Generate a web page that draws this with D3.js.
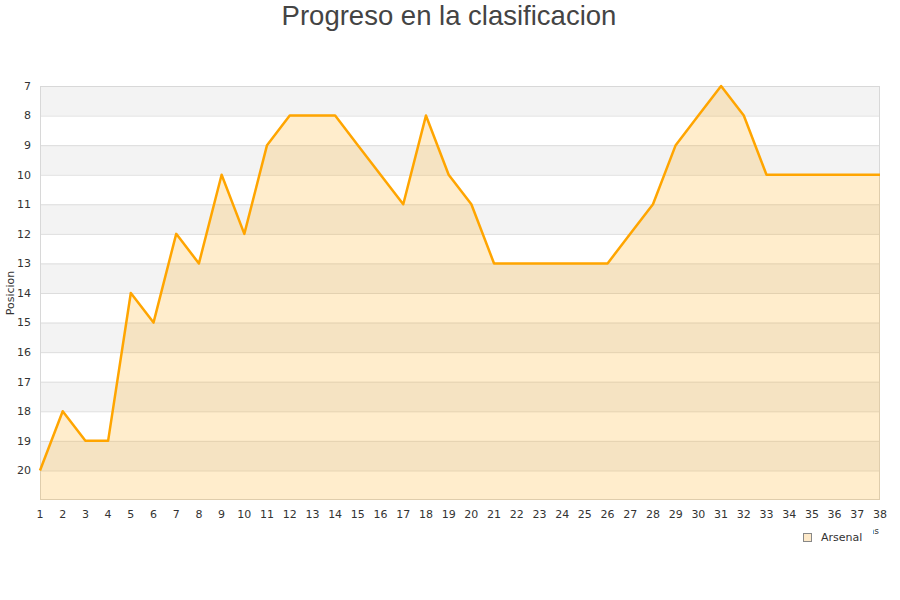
<!DOCTYPE html>
<html><head><meta charset="utf-8">
<script src="https://cdn.jsdelivr.net/npm/d3@7"></script>
<style>body{margin:0;background:#fff}</style>
</head><body>
<svg id="c" width="900" height="600"></svg>
<script>
const jornadas = d3.range(1, 39);
const posiciones = [20,18,19,19,14,15,12,13,10,12,9,8,8,8,9,10,11,8,10,11,13,13,13,13,13,13,12,11,9,8,7,8,10,10,10,10,10,10];
const yTicks = d3.range(7, 21);
const title = "Progreso en la clasificacion";
const seriesName = "Arsenal";
const yTitle = "Posicion";
const xTitle = "Jornadas";

const svg = d3.select("#c");
const m = {l:40, r:880, t:86, b:500};
const x = d3.scaleLinear().domain([1,38]).range([m.l, m.r]);
const y = d3.scaleLinear().domain([7,21]).range([m.t, m.b]);
const font = "DejaVu Sans, sans-serif";

// bands
svg.append("g").selectAll("rect").data(d3.range(7,21)).join("rect")
  .attr("x", m.l).attr("width", m.r-m.l)
  .attr("y", d=>y(d)).attr("height", d=>y(d+1)-y(d))
  .attr("fill", d=> (d%2===1) ? "#f3f3f3" : "#ffffff");
// grid
svg.append("g").selectAll("line").data(d3.range(8,21)).join("line")
  .attr("x1", m.l).attr("x2", m.r).attr("y1", d=>y(d)+0.5).attr("y2", d=>y(d)+0.5)
  .attr("stroke", "#dddddd");
// border
svg.append("rect").attr("x", m.l+0.5).attr("y", m.t+0.5).attr("width", m.r-m.l-1).attr("height", m.b-m.t-1)
  .attr("fill","none").attr("stroke","#d8d8d8");

const data = jornadas.map((j,i)=>({j, p:posiciones[i]}));
svg.append("path").datum(data)
  .attr("d", d3.area().x(d=>x(d.j)).y0(y(21)).y1(d=>y(d.p)))
  .attr("fill", "#ffa500").attr("fill-opacity", 0.2);
svg.append("path").datum(data)
  .attr("d", d3.line().x(d=>x(d.j)).y(d=>y(d.p)))
  .attr("fill", "none").attr("stroke", "#ffa500").attr("stroke-width", 2.5).attr("stroke-linejoin","round");

// y axis labels
svg.append("g").selectAll("text").data(yTicks).join("text")
  .attr("x", 31).attr("y", d=>y(d)).attr("dy","0.35em").attr("text-anchor","end")
  .attr("font-family", font).attr("font-size", 11).attr("fill", "#333").text(d=>d);
// x axis labels
svg.append("g").selectAll("text").data(jornadas).join("text")
  .attr("x", d=>x(d)).attr("y", 518).attr("text-anchor","middle")
  .attr("font-family", font).attr("font-size", 11).attr("fill", "#333").text(d=>d);

// titles
svg.append("text").attr("x", 449).attr("y", 25).attr("text-anchor","middle")
  .attr("font-family","Liberation Sans, Arial, sans-serif").attr("font-size", 27.5).attr("fill","#444").text(title);
svg.append("text").attr("transform","translate(14,293) rotate(-90)").attr("text-anchor","middle")
  .attr("font-family", font).attr("font-size", 11).attr("fill","#333").text(yTitle);
svg.append("text").attr("x", 879).attr("y", 534).attr("text-anchor","end")
  .attr("font-family", font).attr("font-size", 9).attr("fill","#333").text(xTitle);

// legend
const lg = svg.append("g");
lg.append("rect").attr("x", 795).attr("y", 526).attr("width", 78).attr("height", 22).attr("fill","#fff");
lg.append("rect").attr("x", 803.5).attr("y", 533.5).attr("width", 8).attr("height", 8)
  .attr("fill","#fde9c9").attr("stroke","#888");
lg.append("text").attr("x", 821).attr("y", 541).attr("font-family", font).attr("font-size", 11).attr("fill","#333").text(seriesName);
</script>
</body></html>
